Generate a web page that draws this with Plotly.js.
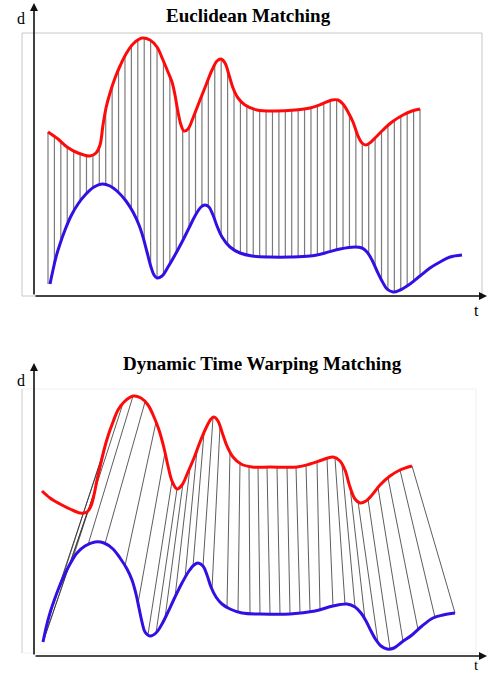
<!DOCTYPE html>
<html><head><meta charset="utf-8">
<script src="https://cdn.plot.ly/plotly-3.0.1.min.js"></script>
<style>html,body{margin:0;padding:0;background:#fff}#chart{width:488px;height:675px}</style>
</head><body><div id="chart"></div>
<script>
// ---- Euclidean panel curves (t, d) ----
const eucRedT = [14,24,33,44,56,62,66,69,72,76,81,86,92,99,108,116,123,129,134,138,141,144,147,150,154,159,166,172,178,183,187,191,195,199,204,211,223,241,261,276,288,298,304,309,314,319,324,328,332,337,343,349,358,369,378,386];
const eucRedD = [164,157,149,143,140,143,151,171,188,203,218,230,242,252,258,256,249,236,224,214,201,184,171,165,167,178,196,211,226,235,237,233,221,208,198,191,186,185,186,188,192,196,196,192,184,174,160,153,151,154,160,166,174,181,185,187];
const eucBlueT = [16,19,22,26,31,37,44,52,60,68,76,84,92,99,105,109,113,117,120,123,128,134,141,148,155,161,167,171,175,179,183,188,196,206,218,236,256,276,291,306,321,328,333,338,343,348,353,359,366,376,386,396,406,416,428];
const eucBlueD = [12,26,39,52,66,80,92,102,109,112,110,104,95,84,71,59,44,29,21,18,20,29,41,54,68,80,89,91,89,81,70,59,49,43,40,39,39,40,43,47,49,48,44,36,25,15,7,4,6,12,20,28,34,39,41];
const eucLineCount = 59;

// ---- DTW panel curves (t, d) ----
const dtwRedT = [8,16,26,36,46,53,57,60,63,66,70,74,79,84,90,99,107,114,120,125,130,134,138,143,148,154,160,166,172,177,180,184,188,193,199,207,218,236,263,276,288,299,306,311,316,321,326,332,338,346,356,366,378];
const dtwRedD = [165,158,152,147,143,144,150,161,176,189,206,220,234,246,254,260,258,251,239,226,208,190,175,167,171,184,198,214,228,237,239,235,224,210,199,192,189,189,189,192,196,199,195,186,169,157,153,155,161,171,180,186,190];
const dtwBlueT = [9,12,16,20,24,30,36,43,51,61,70,79,86,93,98,102,105,108,111,116,122,128,134,141,148,155,160,164,169,173,177,182,188,196,208,226,256,281,299,313,321,327,332,337,342,347,353,360,368,378,388,399,409,421];
const dtwBlueD = [14,28,43,55,66,80,92,103,110,114,113,107,98,87,76,62,48,34,24,20,23,32,44,59,73,85,91,93,90,81,69,59,52,47,43,42,42,45,50,52,49,43,35,25,16,10,7,8,14,21,30,38,41,43];
// warping path: matched time on red and on blue
const dtwPairRedT  = [54,61,69,79,89,99,111,122,131,138,143,149,156,163,170,179,186,196,206,215,224,233,243,253,262,272,283,293,301,308,316,324,334,344,354,366,378];
const dtwPairBlueT = [9,9,16,26,38,54,71,91,104,114,122,131,141,151,159,169,178,193,204,216,226,236,246,256,266,276,286,299,311,321,331,344,356,369,384,401,421];

const titles = ["Euclidean Matching", "Dynamic Time Warping Matching"];
const yLabel = "d";
const xLabel = "t";

function interp(ts, ds, t) {
  if (t <= ts[0]) return ds[0];
  const n = ts.length;
  if (t >= ts[n-1]) return ds[n-1];
  for (let i = 1; i < n; i++) {
    if (t <= ts[i]) {
      const f = (t - ts[i-1]) / (ts[i] - ts[i-1]);
      return ds[i-1] + f * (ds[i] - ds[i-1]);
    }
  }
  return ds[n-1];
}

const RED = '#ff0a0a', BLUE = '#3210e4';
const W = 488, H = 675;

// Euclidean connectors
const ex = [], ey = [];
const t0 = eucRedT[0], t1 = eucRedT[eucRedT.length-1];
for (let k = 0; k < eucLineCount; k++) {
  const t = t0 + k * (t1 - t0) / (eucLineCount - 1);
  ex.push(t, t, null);
  ey.push(interp(eucRedT, eucRedD, t), interp(eucBlueT, eucBlueD, t), null);
}
// DTW connectors
const dx = [], dy = [];
for (let k = 0; k < dtwPairRedT.length; k++) {
  const tr = dtwPairRedT[k], tb = dtwPairBlueT[k];
  dx.push(tr, tb, null);
  dy.push(interp(dtwRedT, dtwRedD, tr), interp(dtwBlueT, dtwBlueD, tb), null);
}

const traces = [
  {x: ex, y: ey, xaxis: 'x', yaxis: 'y', mode: 'lines', line: {color: '#7a7a7a', width: 1.2}, hoverinfo: 'skip'},
  {x: eucRedT, y: eucRedD, xaxis: 'x', yaxis: 'y', mode: 'lines', line: {color: RED, width: 3, shape: 'spline', smoothing: 1}},
  {x: eucBlueT, y: eucBlueD, xaxis: 'x', yaxis: 'y', mode: 'lines', line: {color: BLUE, width: 3, shape: 'spline', smoothing: 1}},
  {x: dx, y: dy, xaxis: 'x2', yaxis: 'y2', mode: 'lines', line: {color: '#333333', width: 0.8}, hoverinfo: 'skip'},
  {x: dtwRedT, y: dtwRedD, xaxis: 'x2', yaxis: 'y2', mode: 'lines', line: {color: RED, width: 3, shape: 'spline', smoothing: 1}},
  {x: dtwBlueT, y: dtwBlueD, xaxis: 'x2', yaxis: 'y2', mode: 'lines', line: {color: BLUE, width: 3, shape: 'spline', smoothing: 1}}
];

const hidden = {showgrid: false, zeroline: false, showticklabels: false, ticks: '', showline: false, fixedrange: true};
const serif = '"Liberation Serif", "Times New Roman", "DejaVu Serif", serif';
const px = v => v / W, py = v => 1 - v / H;

function arrow(xTip, yTip, axPix, ayPix) {
  return {xref: 'paper', yref: 'paper', x: px(xTip), y: py(yTip), ax: axPix, ay: ayPix,
    text: '', showarrow: true, arrowhead: 2, arrowsize: 1, arrowwidth: 1.6, arrowcolor: '#111', standoff: 0};
}
function label(text, x, y, size, bold) {
  return {xref: 'paper', yref: 'paper', x: px(x), y: py(y), xanchor: 'center', yanchor: 'middle',
    text: bold ? '<b>' + text + '</b>' : text, showarrow: false, font: {family: serif, size: size, color: '#000'}};
}

const layout = {
  width: W, height: H, margin: {l: 0, r: 0, t: 0, b: 0},
  paper_bgcolor: '#fff', plot_bgcolor: 'rgba(0,0,0,0)', showlegend: false,
  xaxis: Object.assign({domain: [px(22), px(482)], range: [-12, 448], anchor: 'y'}, hidden),
  yaxis: Object.assign({domain: [py(296), py(33)], range: [0, 263], anchor: 'x'}, hidden),
  xaxis2: Object.assign({domain: [px(22), px(476)], range: [-12, 442], anchor: 'y2'}, hidden),
  yaxis2: Object.assign({domain: [py(653), py(389)], range: [3, 267], anchor: 'x2'}, hidden),
  shapes: [
    {type: 'rect', xref: 'x domain', yref: 'y domain', x0: 0, x1: 1, y0: 0, y1: 1, line: {color: '#c8c8c8', width: 1}, layer: 'below'},
    {type: 'rect', xref: 'x2 domain', yref: 'y2 domain', x0: 0, x1: 1, y0: 0, y1: 1, line: {color: '#f0f0f0', width: 1}, layer: 'below'},
    {type: 'line', xref: 'x2 domain', yref: 'y2 domain', x0: 0, x1: 0, y0: 0, y1: 1, line: {color: '#d4d4d4', width: 1}, layer: 'below'}
  ],
  annotations: [
    arrow(488, 296, -454, 0),
    arrow(34, 3, 0, 293),
    arrow(488, 656, -454, 0),
    arrow(34, 363, 0, 293),
    label(yLabel, 21, 19, 16, false),
    label(xLabel, 476, 310, 16, false),
    label(yLabel, 21, 380, 16, false),
    label(xLabel, 476, 665, 15, false),
    label(titles[0], 248, 16, 19, true),
    label(titles[1], 262, 364, 19, true)
  ]
};

Plotly.newPlot('chart', traces, layout, {staticPlot: true, displayModeBar: false});
</script>
</body></html>
